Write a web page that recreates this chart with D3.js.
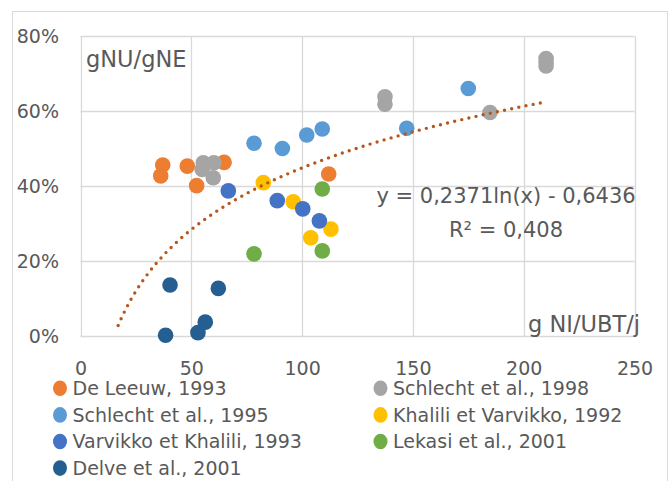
<!DOCTYPE html>
<html>
<head>
<meta charset="utf-8">
<script src="https://cdn.jsdelivr.net/npm/d3@7"></script>
<style>
  body { margin: 0; background: #fff; }
  svg { display: block; font-family: "DejaVu Sans", sans-serif; }
</style>
</head>
<body>
<svg id="chart" width="669" height="481"></svg>
<script>
// series, in Excel drawing order: [g NI/UBT/j, gNU/gNE]
var deLeeuw1993 = [[37.1, 0.456], [36.2, 0.427], [48.2, 0.453], [52.4, 0.401], [64.8, 0.463], [112.0, 0.432]];
var schlecht1998 = [[55.4, 0.462], [60.2, 0.462], [54.9, 0.444], [59.9, 0.422], [137.4, 0.638], [137.4, 0.618], [184.8, 0.596], [210.1, 0.740], [210.1, 0.730], [210.1, 0.720]];
var schlecht1995 = [[78.3, 0.514], [91.1, 0.500], [102.1, 0.536], [109.1, 0.552], [147.2, 0.554], [175.0, 0.660]];
var khalili1992 = [[82.5, 0.409], [96.0, 0.358], [103.9, 0.262], [113.0, 0.285]];
var varvikko1993 = [[66.7, 0.387], [88.8, 0.361], [100.3, 0.339], [107.8, 0.307]];
var lekasi2001 = [[109.1, 0.392], [109.1, 0.227], [78.3, 0.219]];
var delve2001 = [[40.4, 0.136], [62.2, 0.127], [56.3, 0.037], [53.0, 0.009], [38.4, 0.002]];

var seriesNames = ["De Leeuw, 1993", "Schlecht et al., 1998", "Schlecht et al., 1995", "Khalili et Varvikko, 1992",
                   "Varvikko et Khalili, 1993", "Lekasi et al., 2001", "Delve et al., 2001"];
var seriesColors = ["#ED7D31", "#A5A5A5", "#5B9BD5", "#FFC000", "#4472C4", "#70AD47", "#255E91"];
var seriesData = [deLeeuw1993, schlecht1998, schlecht1995, khalili1992, varvikko1993, lekasi2001, delve2001];

var xTicks = [0, 50, 100, 150, 200, 250];
var yTicks = [0, 0.2, 0.4, 0.6, 0.8];

// logarithmic trendline shown on the chart
var trendA = 0.2371, trendB = -0.6436;
var trendFrom = 17, trendTo = 209;
var trendLabel = ["y = 0,2371ln(x) - 0,6436", "R\u00b2 = 0,408"];

var svg = d3.select("#chart");
var textColor = "#595959", gridColor = "#D9D9D9";

// chart frame
svg.append("rect")
	.attr("x", 12.5).attr("y", 11.5)
	.attr("width", 655).attr("height", 480)
	.attr("fill", "#fff")
	.attr("stroke", gridColor)
	.attr("stroke-width", 1);

var x = d3.scaleLinear().domain([0, 250]).range([80.5, 634.5]);
var y = d3.scaleLinear().domain([0, 0.8]).range([336, 36]);

// grid
svg.append("g").selectAll("line")
	.data(yTicks).enter().append("line")
	.attr("x1", x(0)).attr("x2", x(250))
	.attr("y1", function(d) { return Math.round(y(d)) + 0.5; })
	.attr("y2", function(d) { return Math.round(y(d)) + 0.5; })
	.attr("stroke", gridColor).attr("stroke-width", 1.3);

svg.append("g").selectAll("line")
	.data(xTicks).enter().append("line")
	.attr("y1", y(0)).attr("y2", y(0.8))
	.attr("x1", function(d) { return Math.round(x(d)) + 0.5; })
	.attr("x2", function(d) { return Math.round(x(d)) + 0.5; })
	.attr("stroke", gridColor).attr("stroke-width", 1.3);

// axes labels (no axis lines, just ticks text)
var yAxis = svg.append("g")
	.attr("transform", "translate(" + 59 + ",0)")
	.call(d3.axisLeft(y).tickValues(yTicks).tickSize(0).tickPadding(0).tickFormat(d3.format(".0%")));
yAxis.select(".domain").remove();
yAxis.selectAll("text").attr("fill", textColor).style("font-size", "19px").style("font-family", "DejaVu Sans");

var xAxis = svg.append("g")
	.attr("transform", "translate(0," + 361 + ")")
	.call(d3.axisBottom(x).tickValues(xTicks).tickSize(0).tickPadding(0));
xAxis.select(".domain").remove();
xAxis.selectAll("text").attr("fill", textColor).style("font-size", "19px").style("font-family", "DejaVu Sans");

// markers
var ser = svg.selectAll(".ser")
	.data(seriesData).enter().append("g")
	.attr("class", "ser")
	.attr("fill", function(d, i) { return seriesColors[i]; });

ser.selectAll("circle")
	.data(function(d) { return d; })
	.enter().append("circle")
	.attr("cx", function(d) { return x(d[0]); })
	.attr("cy", function(d) { return y(d[1]); })
	.attr("r", 7.8);

// trendline
var trendXs = d3.range(trendFrom, trendTo + 0.5, 0.5);
var line = d3.line()
	.x(function(d) { return x(d); })
	.y(function(d) { return y(trendA * Math.log(d) + trendB); });

svg.append("path")
	.attr("d", line(trendXs))
	.attr("fill", "none")
	.attr("stroke", "#B8561A")
	.attr("stroke-width", 3.4)
	.attr("stroke-linecap", "round")
	.attr("stroke-dasharray", "0 7.3");

// trendline label
svg.append("g").selectAll("text")
	.data(trendLabel).enter().append("text")
	.attr("x", 506)
	.attr("y", function(d, i) { return 203 + i * 34; })
	.attr("text-anchor", "middle")
	.attr("fill", textColor)
	.style("font-size", "21px")
	.text(function(d) { return d; });

// axis titles
svg.append("text")
	.attr("x", 86).attr("y", 66.5)
	.attr("fill", textColor)
	.style("font-size", "22.5px")
	.text("gNU/gNE");

svg.append("text")
	.attr("x", 640).attr("y", 331.5)
	.attr("text-anchor", "end")
	.attr("fill", textColor)
	.style("font-size", "22.5px")
	.text("g NI/UBT/j");

// legend, two columns
var legend = svg.selectAll(".leg")
	.data(seriesNames).enter().append("g")
	.attr("class", "leg")
	.attr("transform", function(d, i) {
		return "translate(" + (i % 2 == 0 ? 60 : 380.5) + "," + (388.3 + Math.floor(i / 2) * 26.6) + ")";
	});

legend.append("ellipse")
	.attr("rx", 7).attr("ry", 7.8)
	.attr("fill", function(d, i) { return seriesColors[i]; });

legend.append("text")
	.attr("x", 12.5)
	.attr("dy", "0.36em")
	.attr("fill", textColor)
	.style("font-size", "19px")
	.text(function(d) { return d; });
</script>
</body>
</html>
